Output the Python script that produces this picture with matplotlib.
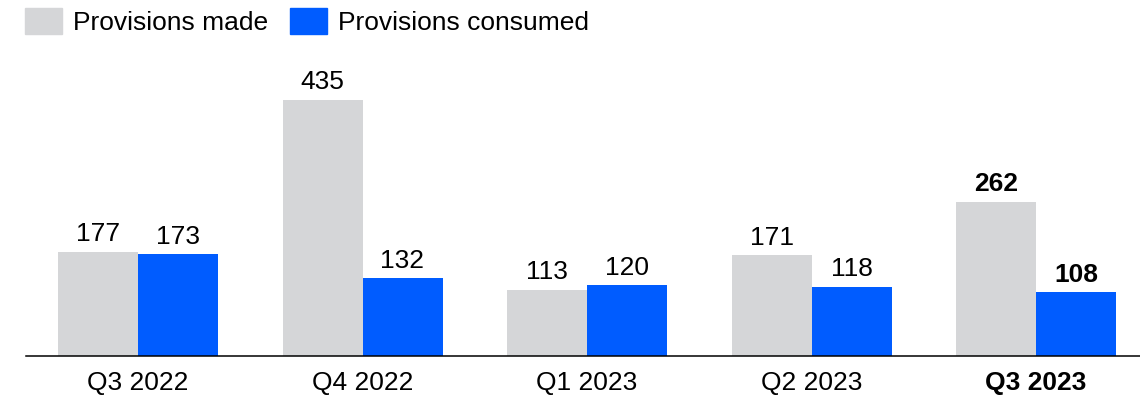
import numpy as np
import matplotlib
matplotlib.use("Agg")
from matplotlib import pyplot as plt
from matplotlib.patches import Patch

quarters = ['Q3 2022', 'Q4 2022', 'Q1 2023', 'Q2 2023', 'Q3 2023']
made = [177, 435, 113, 171, 262]
consumed = [173, 132, 120, 118, 108]

GRAY = '#d5d6d8'
BLUE = '#005cff'

plt.rcParams['font.family'] = ['Liberation Sans', 'DejaVu Sans']
FS = 19

fig = plt.figure(figsize=(11.4, 3.95), dpi=100)
ax = fig.add_axes([26 / 1140, 39 / 395, 1114 / 1140, 280 / 395])

x = np.arange(len(quarters))
w = 80 / 224.5
b1 = ax.bar(x - w / 2, made, w, color=GRAY)
b2 = ax.bar(x + w / 2, consumed, w, color=BLUE)

last = len(quarters) - 1
for bars in (b1, b2):
    for i, rect in enumerate(bars):
        ax.annotate(f'{rect.get_height():.0f}',
                    (rect.get_x() + rect.get_width() / 2, rect.get_height()),
                    xytext=(0, 4), textcoords='offset points',
                    ha='center', va='bottom', fontsize=FS,
                    fontweight='bold' if i == last else 'normal')

ax.set_xlim(-112 / 224.5, 1002 / 224.5)
ax.set_ylim(0, 475.8)
ax.set_xticks(x)
ax.set_xticklabels(quarters, fontsize=FS)
ax.get_xticklabels()[last].set_fontweight('bold')
ax.tick_params(axis='x', length=0, pad=11)
ax.set_yticks([])
for s in ['top', 'right', 'left']:
    ax.spines[s].set_visible(False)
ax.spines['bottom'].set_linewidth(1.1)
ax.spines['bottom'].set_color('black')

handles = [Patch(color=GRAY, label='Provisions made'),
           Patch(color=BLUE, label='Provisions consumed')]
fig.legend(handles=handles, loc='upper left', bbox_to_anchor=(25 / 1140, 1 - 8 / 395),
           ncol=2, frameon=False, fontsize=FS, borderpad=0, borderaxespad=0,
           handlelength=1.4, handleheight=1.15, handletextpad=0.42, columnspacing=0.83)

fig.savefig('out.png', dpi=100)
